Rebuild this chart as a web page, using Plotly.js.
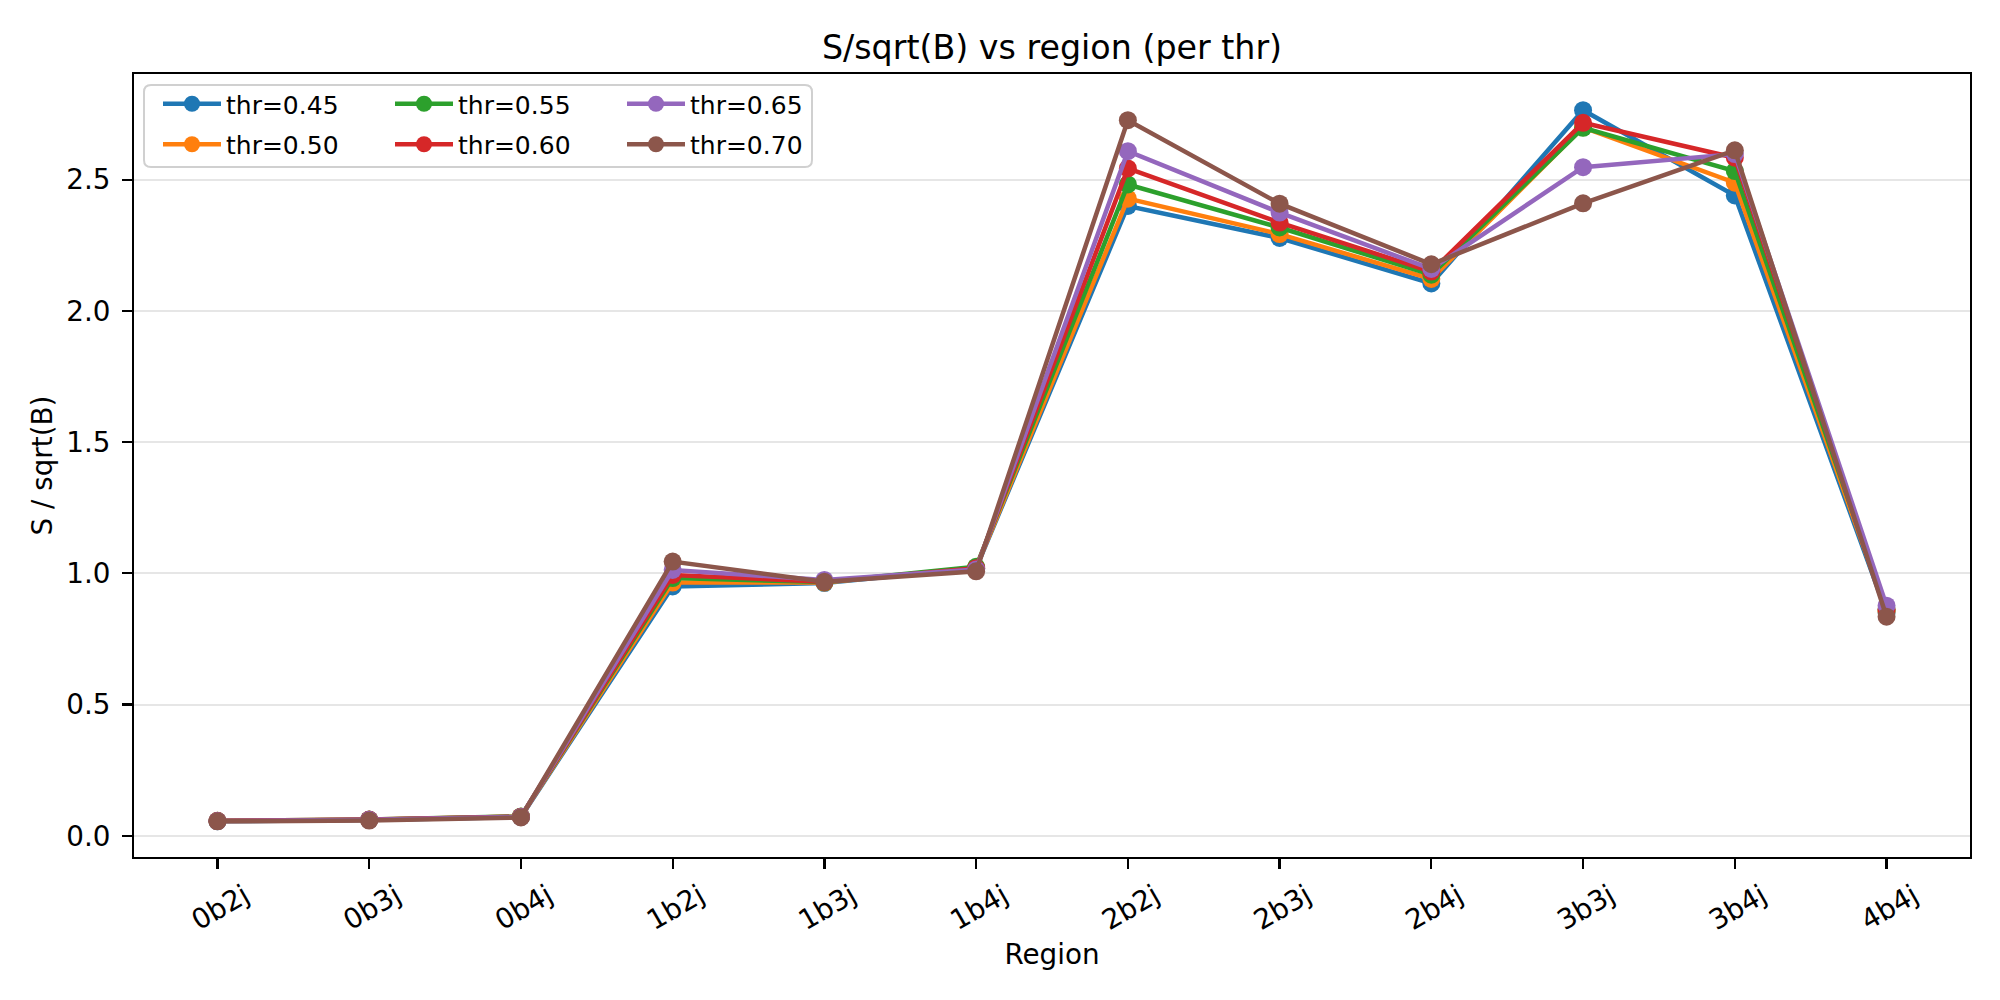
<!DOCTYPE html>
<html>
<head>
<meta charset="utf-8">
<script src="https://cdn.plot.ly/plotly-3.0.1.min.js"></script>
<style>
html,body{margin:0;padding:0;background:#fff;}
#chart{width:2000px;height:1000px;}
</style>
</head>
<body>
<div id="chart"></div>
<script>
// ---- data ----
var regions = ["0b2j","0b3j","0b4j","1b2j","1b3j","1b4j","2b2j","2b3j","2b4j","3b3j","3b4j","4b4j"];
var thrLabels = ["thr=0.45","thr=0.50","thr=0.55","thr=0.60","thr=0.65","thr=0.70"];
var thr045 = [0.055, 0.060, 0.072, 0.950, 0.963, 1.020, 2.400, 2.278, 2.105, 2.765, 2.440, 0.850];
var thr050 = [0.056, 0.061, 0.073, 0.965, 0.965, 1.022, 2.428, 2.293, 2.122, 2.700, 2.489, 0.855];
var thr055 = [0.057, 0.062, 0.074, 0.982, 0.967, 1.025, 2.482, 2.318, 2.138, 2.698, 2.533, 0.860];
var thr060 = [0.057, 0.062, 0.073, 0.994, 0.968, 1.020, 2.543, 2.337, 2.150, 2.717, 2.584, 0.862];
var thr065 = [0.056, 0.061, 0.072, 1.013, 0.975, 1.015, 2.609, 2.375, 2.160, 2.548, 2.598, 0.877];
var thr070 = [0.055, 0.058, 0.070, 1.045, 0.968, 1.008, 2.727, 2.409, 2.178, 2.410, 2.612, 0.835];
var yTickVals = [0.0, 0.5, 1.0, 1.5, 2.0, 2.5];

// ---- styling ----
var series = [thr045, thr050, thr055, thr060, thr065, thr070];
var colors = ["#1f77b4","#ff7f0e","#2ca02c","#d62728","#9467bd","#8c564b"];
var legendIds = ["legend","legend","legend2","legend2","legend3","legend3"];
var FONT = "DejaVu Sans, Liberation Sans, sans-serif";

var traces = series.map(function(vals, i){
  return {
    type: "scatter",
    mode: "lines+markers",
    x: regions,
    y: vals,
    name: thrLabels[i],
    legend: legendIds[i],
    legendgroup: thrLabels[i],
    line: {color: colors[i], width: 4.5},
    marker: {color: colors[i], size: 18},
    hoverinfo: "x+y+name"
  };
});

var W = 2000, H = 1000;
var m = {l:134, r:30, t:74, b:143};
var pw = W - m.l - m.r, ph = H - m.t - m.b;
function px2x(p){ return (p - m.l) / pw; }
function py2y(p){ return 1 - (p - m.t) / ph; }

// legend frame (rounded box)
var bx0 = px2x(144), bx1 = px2x(812), by1 = py2y(85), by0 = py2y(167);
var rx = 7 / pw, ry = 7 / ph;
var framePath = "M" + (bx0+rx) + "," + by1 +
  " L" + (bx1-rx) + "," + by1 + " Q" + bx1 + "," + by1 + " " + bx1 + "," + (by1-ry) +
  " L" + bx1 + "," + (by0+ry) + " Q" + bx1 + "," + by0 + " " + (bx1-rx) + "," + by0 +
  " L" + (bx0+rx) + "," + by0 + " Q" + bx0 + "," + by0 + " " + bx0 + "," + (by0+ry) +
  " L" + bx0 + "," + (by1-ry) + " Q" + bx0 + "," + by1 + " " + (bx0+rx) + "," + by1 + " Z";

var ITEMW = 58;
function legendAt(textPx){
  return {
    x: px2x(textPx - ITEMW - 10), y: py2y(81), xanchor: "left", yanchor: "top",
    xref: "paper", yref: "paper",
    bgcolor: "rgba(0,0,0,0)", borderwidth: 0,
    font: {family: FONT, size: 25, color: "#000"},
    tracegroupgap: 5, orientation: "v",
    itemwidth: ITEMW
  };
}

var layout = {
  width: W, height: H,
  margin: m,
  paper_bgcolor: "#fff", plot_bgcolor: "#fff",
  font: {family: FONT, color: "#000"},
  showlegend: true,
  title: {
    text: "S/sqrt(B) vs region (per thr)",
    font: {family: FONT, size: 33.3, color: "#000"},
    x: (m.l + pw/2) / W, xref: "container", xanchor: "center",
    y: 1 - 47/H, yref: "container", yanchor: "middle"
  },
  xaxis: {
    type: "category",
    range: [-0.55, 11.55],
    showgrid: false, zeroline: false,
    showline: true, linecolor: "#000", linewidth: 2.2, mirror: true,
    ticks: "outside", ticklen: 9.7, tickwidth: 2.2, tickcolor: "#000",
    tickangle: -30,
    ticklabelshift: 27,
    tickfont: {family: FONT, size: 27.8, color: "#000"},
    title: {text: "Region", font: {family: FONT, size: 27.8, color: "#000"}, standoff: 9},
    automargin: false
  },
  yaxis: {
    range: [-0.0808, 2.903],
    tickvals: yTickVals, tickformat: ".1f",
    showgrid: true, gridcolor: "#e6e6e6", gridwidth: 2,
    zeroline: false,
    showline: true, linecolor: "#000", linewidth: 2.2, mirror: true,
    ticks: "outside", ticklen: 9.7, tickwidth: 2.2, tickcolor: "#000",
    tickfont: {family: FONT, size: 27.8, color: "#000"},
    ticklabelstandoff: 6,
    title: {text: "S / sqrt(B)", font: {family: FONT, size: 27.8, color: "#000"}, standoff: 6},
    automargin: false
  },
  legend: legendAt(226),
  legend2: legendAt(458),
  legend3: legendAt(690),
  shapes: [{
    type: "path", xref: "paper", yref: "paper", layer: "above",
    path: framePath,
    fillcolor: "rgba(255,255,255,0.8)",
    line: {color: "#d0d0d0", width: 2}
  }]
};

Plotly.newPlot("chart", traces, layout, {displayModeBar: false, staticPlot: true});
</script>
</body>
</html>
